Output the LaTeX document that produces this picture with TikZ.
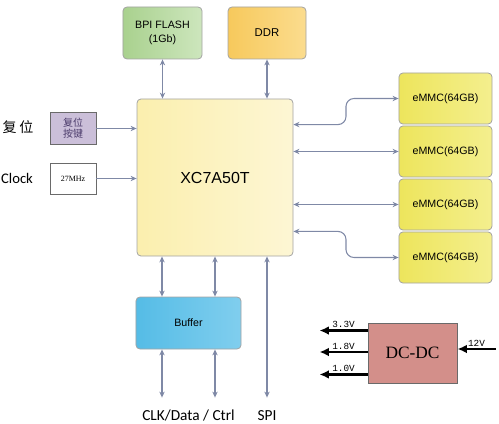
\documentclass[tikz,border=0pt]{standalone}
\usepackage{fontspec}
\setmainfont{Liberation Sans}
\newfontfamily\cjk{Noto Sans CJK SC}
\newfontfamily\labelfont{Carlito}
\newfontfamily\voltfont{Liberation Mono}
\newfontfamily\boxfont{Liberation Serif}
\usetikzlibrary{arrows.meta,calc,positioning}
\definecolor{lineGray}{HTML}{7F89A6}
\definecolor{boxGray}{HTML}{A3A3A3}
\definecolor{darkGray}{HTML}{6A6A6A}
\definecolor{flashLeft}{HTML}{A9D18E}
\definecolor{flashRight}{HTML}{CDE6BD}
\definecolor{ddrLeft}{HTML}{F7C95C}
\definecolor{ddrRight}{HTML}{FBDC8E}
\definecolor{fpgaLeft}{HTML}{FBEFAE}
\definecolor{fpgaRight}{HTML}{FDF6D4}
\definecolor{emmcLeft}{HTML}{EDE55C}
\definecolor{emmcRight}{HTML}{F4EF8E}
\definecolor{bufLeft}{HTML}{55BCE6}
\definecolor{bufRight}{HTML}{80CEEE}
\definecolor{resetFill}{HTML}{CBBFD9}
\definecolor{resetText}{HTML}{4B3B6B}
\definecolor{dcdcFill}{HTML}{D38F8A}
\begin{document}
\begin{tikzpicture}
[x=0.75pt,y=-0.75pt,
  arrowDecorate/.style={<->,>={Stealth[length=4.5pt,width=4pt]},draw=lineGray,line width=0.8pt},
  inDecorate/.style={arrowDecorate,-{Stealth[length=4.5pt,width=4pt]}},
  boxDecorate/.style={draw=boxGray,line width=0.6pt,rounded corners=3pt,align=center,inner sep=0pt},
  plainDecorate/.style={draw=darkGray,line width=0.7pt,align=center,inner sep=0pt},
  powerDecorate/.style={-{Latex[length=7pt,width=6.5pt]},line width=2pt,black},
  voltDecorate/.style={font=\voltfont\fontsize{7}{8}\selectfont,inner sep=1pt}]
\useasboundingbox (0,0) rectangle (499,424);
%% nodes or blocks
\node (flash) at (162.5,33) [boxDecorate,minimum width=59.3pt,minimum height=39pt,
  left color=flashLeft,right color=flashRight,font=\fontsize{8}{10}\selectfont] {BPI FLASH\\(1Gb)};
\node (ddr) at (267,33) [boxDecorate,minimum width=58.5pt,minimum height=39pt,
  left color=ddrLeft,right color=ddrRight,font=\fontsize{8.5}{10}\selectfont] {DDR};
\node (fpga) at (215,177.5) [boxDecorate,minimum width=117pt,minimum height=117.8pt,
  left color=fpgaLeft,right color=fpgaRight,font=\fontsize{12}{14}\selectfont] {XC7A50T};
\node (reset) at (73,128.5) [plainDecorate,minimum width=34.5pt,minimum height=23.3pt,
  fill=resetFill,text=resetText,font=\cjk\fontsize{7.5}{8.5}\selectfont] {复位\\按键};
\node (clock) at (73,178.5) [plainDecorate,minimum width=34.5pt,minimum height=23.3pt,
  fill=white,font=\boxfont\fontsize{6}{7}\selectfont] {27MHz};
\node (buffer) at (188.5,323) [boxDecorate,minimum width=78.8pt,minimum height=39pt,
  left color=bufLeft,right color=bufRight,font=\fontsize{8}{10}\selectfont] {Buffer};
\foreach \nodename/\y in {emmcA/98.5, emmcB/151.5, emmcC/204.5, emmcD/257.5}
{
  \node (\nodename) at (445.5,\y) [boxDecorate,minimum width=69.8pt,minimum height=38.3pt,
    left color=emmcLeft,right color=emmcRight,font=\fontsize{8}{10}\selectfont] {eMMC(64GB)};
}
\node (dcdc) at (412.5,353) [plainDecorate,minimum width=66.8pt,minimum height=45pt,
  fill=dcdcFill,font=\boxfont\fontsize{13}{15}\selectfont] {DC-DC};
%% side and bottom labels
\node (resetLabel) at (18,127) [font=\cjk\fontsize{10.5}{12}\selectfont] {复\hspace{2pt}位};
\node (clockLabel) at (17,178) [font=\labelfont\fontsize{11}{13}\selectfont] {Clock};
%% helper coordinates
\coordinate (emmcUp) at ($(fpga.north east)+(0,26)$);
\coordinate (emmcDown) at ($(fpga.south east)+(0,-25)$);
\coordinate (bendUp) at ($(emmcUp)!0.5!(emmcUp -| emmcA.west)$);
\coordinate (bendDown) at ($(emmcDown)!0.5!(emmcDown -| emmcD.west)$);
\coordinate (busA) at ($(buffer.north)+(-26.5,0)$);
\coordinate (busB) at ($(buffer.north)+(26.5,0)$);
\coordinate (endA) at ($(busA)+(0,101)$);
\coordinate (endB) at ($(busB)+(0,101)$);
\coordinate (spiEnd) at (ddr.south |- endA);
\node (busLabel) at ($(buffer.south)+(0,66)$) [font=\labelfont\fontsize{11.5}{13}\selectfont] {CLK/Data / Ctrl};
\node (spiLabel) at (spiEnd |- busLabel) [font=\labelfont\fontsize{11.5}{13}\selectfont] {SPI};
\coordinate (outA) at ($(dcdc.north west)+(0,8)$);
\coordinate (outB) at ($(dcdc.west)+(0,-1)$);
\coordinate (outC) at ($(dcdc.south west)+(0,-9)$);
\coordinate (inPwr) at ($(dcdc.east)+(38,-4)$);
%% edges or lines
\draw[arrowDecorate] (flash.south) -- (flash.south |- fpga.north);
\draw[arrowDecorate] (ddr.south) -- (ddr.south |- fpga.north);
\draw[inDecorate] (reset.east) -- (reset.east -| fpga.west);
\draw[inDecorate] (clock.east) -- (clock.east -| fpga.west);
\draw[arrowDecorate,rounded corners=6pt] (emmcUp) -- (bendUp) |- (emmcA.west);
\draw[arrowDecorate] (emmcB.west -| fpga.east) -- (emmcB.west);
\draw[arrowDecorate] (emmcC.west -| fpga.east) -- (emmcC.west);
\draw[arrowDecorate,rounded corners=6pt] (emmcDown) -- (bendDown) |- (emmcD.west);
\foreach \startnode in {busA, busB}
{
  \draw[arrowDecorate] (\startnode |- fpga.south) -- (\startnode);
}
\draw[arrowDecorate] (busA |- buffer.south) -- (endA);
\draw[arrowDecorate] (busB |- buffer.south) -- (endB);
\draw[arrowDecorate] (spiEnd |- fpga.south) -- (spiEnd);
%% power rails
\foreach \railpoint/\volt in {outA/3.3V, outB/1.8V, outC/1.0V}
{
  \draw[powerDecorate] (\railpoint) -- ++(-48,0) node[midway,above,voltDecorate] {\volt};
}
\draw[powerDecorate] (inPwr) -- (inPwr -| dcdc.east) node[midway,above,voltDecorate] {12V};
\end{tikzpicture}
\end{document}
